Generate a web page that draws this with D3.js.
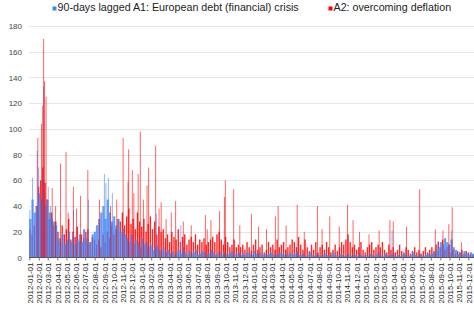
<!DOCTYPE html>
<html>
<head>
<meta charset="utf-8">
<script src="https://cdn.jsdelivr.net/npm/d3@7"></script>
<style>
  body { margin: 0; background: #fff; }
  svg { display: block; font-family: "Liberation Sans", Arial, sans-serif; }
</style>
</head>
<body>
<svg width="474" height="313"></svg>
<script>
var seriesNames = ["90-days lagged A1: European debt (financial) crisis", "A2: overcoming deflation"];
var colors = ["#4285f4", "#ff0000"];
var yTicks = [0, 20, 40, 60, 80, 100, 120, 140, 160, 180];

// weekly level of each series, one value per week from 2012-01-01
var blueWeekly = [30, 45, 35, 40, 50, 45, 60, 40, 45, 35, 30, 28, 25,
  15, 12, 18, 10, 14, 20, 12, 16, 10, 14, 18, 12, 22, 15, 10, 12, 18, 20,
  25, 30, 35, 40, 30, 45, 35, 28, 32, 25, 30, 20, 22, 18,
  15, 12, 18, 10, 14, 12, 8, 15, 10, 12, 8, 10, 6, 8, 10, 6, 5, 8,
  4, 6, 3, 5, 2, 4, 6, 3, 8, 4, 2, 5, 3, 4, 6, 2, 3, 5, 4, 2, 3, 6, 4, 2, 3, 5, 2, 4, 3, 2,
  4, 5, 2, 3, 4, 2, 3, 2, 4, 3, 2, 5, 3, 2, 4, 2, 3, 2, 3, 4, 2, 3, 2, 4, 3, 2, 3, 2, 4, 2, 3, 5, 2,
  2, 3, 1, 2, 4, 2, 1, 3, 2, 1, 2, 3, 2, 1, 2, 4, 2, 1, 3, 2, 1, 2, 3, 1, 2, 2, 1, 3, 2, 1,
  2, 1, 3, 2, 1, 2, 4, 2, 1, 3, 2, 1, 2, 3, 1, 2, 1, 2, 3, 2, 1, 2, 4, 2, 1, 3, 2, 1, 2, 3, 2, 3, 4, 5,
  8, 12, 10, 15, 12, 10, 14, 8, 6,
  3, 4, 2, 5, 3, 2, 4, 3, 2, 3];

var redWeekly = [22, 18, 25,
  40, 55, 60, 70, 58, 45,
  30, 35, 25, 28,
  20, 15, 25, 18, 22, 30, 14, 20, 16, 24, 12, 18, 15, 20, 22, 12, 16, 14,
  10, 14, 8, 18, 12, 20, 15, 25, 18, 22,
  30, 28, 35, 25, 32, 38, 26, 30, 22, 35, 28, 24, 30, 20, 26, 32, 22, 28, 18, 24, 20, 22,
  15, 18, 12, 20, 16, 14, 22, 12, 16, 18, 10, 14, 16, 12, 18, 10, 14, 12, 15, 10, 12, 14, 16,
  12, 18, 20, 14, 10, 16, 12, 8, 10, 14, 8, 10,
  8, 10, 6, 12, 8, 5, 10, 14, 6, 8, 10, 4, 6, 12, 8, 10, 6, 14, 8, 10, 12, 6, 8, 10, 14, 12, 8, 16,
  10, 6, 14, 8, 5, 10, 6, 12, 4, 8, 10, 6, 12, 8, 4, 6, 10, 5, 8, 12, 10, 14, 18, 12, 8, 10, 6, 8, 12, 6, 4, 8, 10, 12, 6, 8, 10,
  8, 12, 6, 4, 10, 6, 8, 4, 6, 10, 5, 4, 8, 6, 3, 5, 8, 4, 6, 3, 5, 8, 4, 6, 8, 5, 10, 12, 8, 14, 6, 8, 10, 4, 6, 3, 5, 4, 6, 3, 5, 4, 3, 2, 4, 3];

// single days that stick out above the weekly level
var blueSpikeDates = ["2012-01-01", "2012-01-10", "2012-01-25", "2012-01-30", "2012-02-15", "2012-03-01", "2012-03-08",
  "2012-05-22", "2012-07-10", "2012-08-31", "2012-09-05", "2012-09-13", "2012-09-26", "2013-02-16", "2013-05-07",
  "2015-03-26", "2015-08-23", "2015-10-05"];
var blueSpikeValues = [37, 62, 83, 70, 133, 55, 40, 37, 45, 65, 58, 62, 50, 34, 25, 21, 13, 21];

var redSpikeDates = ["2012-01-27", "2012-02-08", "2012-02-12", "2012-02-15", "2012-02-18", "2012-02-23", "2012-03-14",
  "2012-04-10", "2012-04-28", "2012-05-22", "2012-06-14", "2012-07-08", "2012-10-31", "2012-11-16", "2012-11-18",
  "2012-11-30", "2012-12-19", "2012-12-26", "2013-01-17", "2013-01-22", "2013-02-14", "2013-03-04", "2013-04-06",
  "2013-04-20", "2013-07-26", "2013-08-13", "2013-09-10", "2013-09-26", "2013-09-29", "2013-10-26", "2013-12-23",
  "2014-03-11", "2014-03-20", "2014-05-21", "2014-06-13", "2014-07-26", "2014-09-04", "2014-11-01", "2014-11-19",
  "2015-02-12", "2015-03-19", "2015-03-30", "2015-05-12", "2015-06-24", "2015-08-14", "2015-09-08", "2015-09-27",
  "2015-10-08", "2015-11-07",
  "2012-03-25", "2012-05-05", "2012-06-01", "2012-08-15", "2012-09-20", "2012-10-10", "2012-12-05", "2013-01-05",
  "2013-02-25", "2013-03-20", "2013-05-15", "2013-06-10", "2013-08-01", "2013-11-15", "2014-01-15", "2014-02-10",
  "2014-04-15", "2014-08-10", "2014-10-05", "2014-12-10", "2015-01-10"];
var redSpikeValues = [93, 104, 118, 170, 137, 125, 54, 73, 82, 55, 48, 68, 93, 59, 84, 68, 65, 98, 56, 70, 87, 43, 35,
  44, 33, 29, 36, 47, 60, 53, 34, 32, 40, 41, 20, 40, 32, 41, 29, 21, 29, 28, 24, 53, 22, 21, 26, 39, 12,
  40, 35, 38, 45, 40, 45, 50, 45, 38, 30, 28, 25, 22, 25, 24, 22, 25, 22, 24, 20, 18];

var parse = d3.utcParse("%Y-%m-%d");
var start = parse("2012-01-01");
var weeks = d3.range(redWeekly.length).map(function(i){ return d3.utcDay.offset(start, 7 * i); });
var monthTicks = d3.utcMonth.range(start, parse("2015-12-02"));

var svg = d3.select("svg");
var x = d3.scaleUtc().domain([start, parse("2015-12-01")]).range([29.3, 468.3]);
var y = d3.scaleLinear().domain([0, 180]).range([257.5, 26]);

// gridlines
svg.append("g").selectAll("line").data(yTicks.slice(1)).enter().append("line")
  .attr("x1", 29).attr("x2", 474)
  .attr("y1", function(d){ return Math.round(y(d)) + 0.5; })
  .attr("y2", function(d){ return Math.round(y(d)) + 0.5; })
  .attr("stroke", "#e6e6e6");

var y_axis = d3.axisLeft(y).tickValues(yTicks).tickSize(0).tickPadding(0);
var gy = svg.append("g").attr("transform", "translate(22,0)").call(y_axis);
gy.select(".domain").remove();
gy.selectAll("text").attr("font-size", 8).attr("fill", "#444").attr("font-family", "Liberation Sans, Arial, sans-serif");

// weekly bars: red narrow (white shows between), blue full width on top
function weekBars(vals, color, op, frac) {
  svg.append("g").selectAll("rect").data(vals).enter().append("rect")
    .attr("x", function(d, i){ return x(weeks[i]); })
    .attr("width", function(d, i){ return (x(d3.utcDay.offset(weeks[i], 7)) - x(weeks[i])) * frac; })
    .attr("y", function(d){ return y(d); })
    .attr("height", function(d){ return y(0) - y(d); })
    .attr("fill", color).attr("opacity", op);
}
weekBars(redWeekly, colors[1], 0.85, 0.65);
weekBars(blueWeekly, colors[0], 0.8, 1);

function spikes(dates, vals, color) {
  svg.append("g").selectAll("rect").data(vals).enter().append("rect")
    .attr("x", function(d, i){ return x(parse(dates[i])); })
    .attr("width", 1)
    .attr("y", function(d){ return y(d); })
    .attr("height", function(d){ return y(0) - y(d); })
    .attr("fill", color).attr("opacity", 0.6);
}
spikes(blueSpikeDates, blueSpikeValues, colors[0]);
spikes(redSpikeDates, redSpikeValues, colors[1]);

// x axis
var x_axis = d3.axisBottom(x).tickValues(monthTicks).tickSize(3).tickFormat(d3.utcFormat("%Y-%m-%d"));
var gx = svg.append("g").attr("transform", "translate(0,257.5)").call(x_axis);
gx.select(".domain").attr("stroke", "#555").attr("d", "M29,0H474");
gx.selectAll(".tick line").attr("stroke", "#777");
gx.selectAll("text")
  .attr("font-size", 8).attr("fill", "#222").attr("font-family", "Liberation Sans, Arial, sans-serif")
  .attr("transform", "rotate(-90)")
  .attr("x", -5).attr("y", 0).attr("dy", "0.35em")
  .style("text-anchor", "end");

// legend
var legendX = [52.5, 328.5];
var lg = svg.append("g").selectAll("g").data(seriesNames).enter().append("g")
  .attr("transform", function(d, i){ return "translate(" + legendX[i] + ",0)"; });
lg.append("rect").attr("x", 0).attr("y", 6.5).attr("width", 4).attr("height", 4)
  .attr("fill", function(d, i){ return colors[i]; });
lg.append("text").attr("x", 5).attr("y", 10.5).attr("font-size", 10.7).attr("fill", "#222")
  .text(function(d){ return d; });
</script>
</body>
</html>
